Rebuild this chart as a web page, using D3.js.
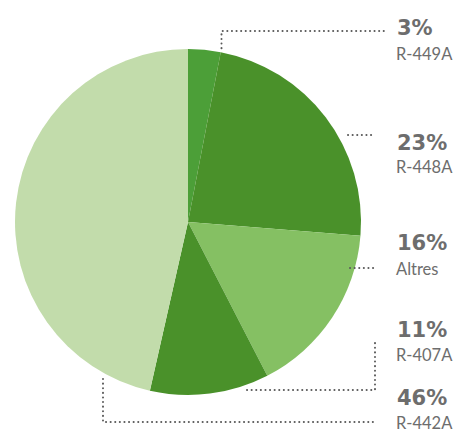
<!DOCTYPE html>
<html>
<head>
<meta charset="utf-8">
<script src="https://cdn.jsdelivr.net/npm/d3@7"></script>
<style>
  body { margin: 0; background: #fff; }
  svg { display: block; }
</style>
</head>
<body>
<svg id="chart" width="455" height="433"></svg>
<script>
// ----- DATA -----
var categories = ["R-449A", "R-448A", "Altres", "R-407A", "R-442A"];
var values = [3, 23, 16, 11, 46];
var pctLabels = ["3%", "23%", "16%", "11%", "46%"];
var colors = ["#4c9f38", "#4a912a", "#85c063", "#4a912a", "#c2dcab"];

// ----- LAYOUT -----
var width = 455, height = 433;
var cx = 188, cy = 222, radius = 173;
var labelX = 397;
var pctY = [35, 150, 250, 337, 405];
var nameY = [60, 173, 275, 361, 429];
var textColor = "#6d6d6d";

var svg = d3.select("#chart");

var pie = d3.pie().sort(null).value(function(d) { return d; });
var arc = d3.arc().innerRadius(0).outerRadius(radius);
var arcs = pie(values);

var g = svg.append("g").attr("transform", "translate(" + cx + "," + cy + ")");

g.selectAll("path")
    .data(arcs)
    .enter().append("path")
    .attr("d", arc)
    .attr("fill", function(d, i) { return colors[i]; })
    .attr("stroke", "none");

// ----- LEADER LINES -----
// point just outside the pie rim at a given angle
function rim(angle, pad) {
    var r = radius + pad;
    return [cx + r * Math.sin(angle), cy - r * Math.cos(angle)];
}
var lineEnd = labelX - 10;
var leaders = [
    // 3%: up from slice edge then right to the label
    (function() {
        var p = rim(arcs[0].endAngle, 4);
        var y = pctY[0] - 4;
        return [p, [p[0], y], [lineEnd, y]];
    })(),
    // 23%: short stub
    [[cx + radius - 13, pctY[1] - 15], [lineEnd - 13, pctY[1] - 15]],
    // 16%: short stub
    [[cx + radius - 11, nameY[2] - 7], [lineEnd - 13, nameY[2] - 7]],
    // 11%: from under the slice, right, then up
    [[cx + 59, 390], [lineEnd - 12, 390], [lineEnd - 12, pctY[3] + 5]],
    // 46%: down from the left, then right
    [[cx - 85, 379], [cx - 85, 422], [lineEnd - 12, 422]]
];

var line = d3.line();
svg.selectAll("path.leader")
    .data(leaders)
    .enter().append("path")
    .attr("class", "leader")
    .attr("d", line)
    .attr("fill", "none")
    .attr("stroke", "#5a5a5a")
    .attr("stroke-width", 2)
    .attr("stroke-linecap", "round")
    .attr("stroke-dasharray", "0.1,4.5");

// ----- LABELS -----
svg.selectAll("text.pct")
    .data(pctLabels)
    .enter().append("text")
    .attr("class", "pct")
    .attr("x", labelX)
    .attr("y", function(d, i) { return pctY[i]; })
    .attr("fill", textColor)
    .style("font-family", "'DejaVu Sans', sans-serif")
    .style("font-weight", "bold")
    .style("font-size", "21px")
    .text(function(d) { return d; });

svg.selectAll("text.name")
    .data(categories)
    .enter().append("text")
    .attr("class", "name")
    .attr("x", labelX - 1)
    .attr("y", function(d, i) { return nameY[i]; })
    .attr("fill", textColor)
    .style("font-family", "Lato, 'Open Sans', sans-serif")
    .style("font-size", "16.5px")
    .text(function(d) { return d; });
</script>
</body>
</html>
